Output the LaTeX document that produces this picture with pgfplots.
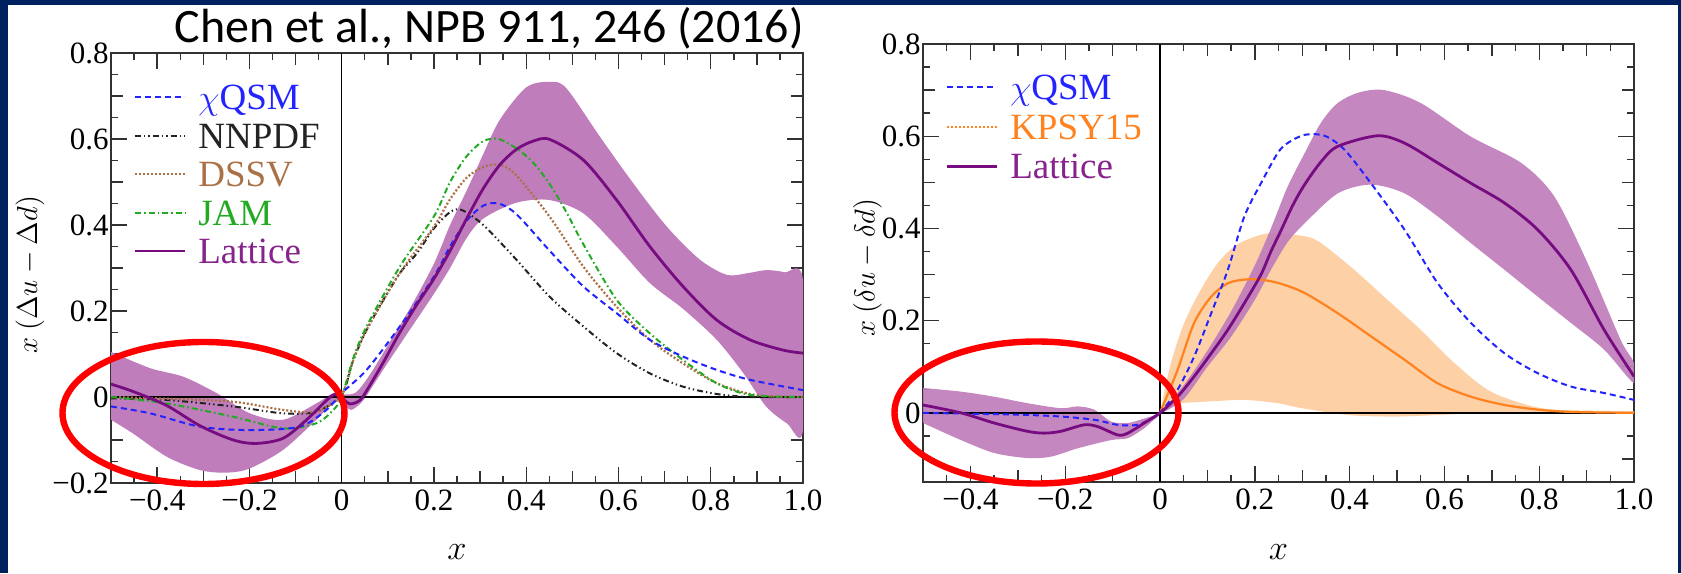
\documentclass[border=0pt]{standalone}
\usepackage{pgfplots}
\pgfplotsset{compat=1.18}
\usepackage{fontspec}
\setmainfont{Liberation Serif}
\newfontfamily\titlefont{Carlito}

\definecolor{navy}{RGB}{0,32,96}
\definecolor{bandp}{RGB}{191,125,187}
\definecolor{latt}{RGB}{118,12,128}
\definecolor{lattxt}{RGB}{135,35,140}
\definecolor{qsm}{RGB}{35,35,255}
\definecolor{nnpdf}{RGB}{35,35,35}
\definecolor{dssv}{RGB}{170,112,70}
\definecolor{jam}{RGB}{35,170,35}
\definecolor{kpsy}{RGB}{255,130,30}
\definecolor{bando}{RGB}{254,208,166}
\definecolor{axframe}{RGB}{50,50,50}

\pgfplotsset{
  pdfpanel/.style={
    scale only axis, anchor=south west,
    xmin=-0.5, xmax=1.0,
    axis line style={axframe, line width=1pt},
    tick style={axframe, line width=0.7pt},
    major tick length=8pt, minor tick length=3.3pt,
    xtick={-0.4,-0.2,0,0.2,0.4,0.6,0.8,1.0},
    xticklabels={−0.4,−0.2,0,0.2,0.4,0.6,0.8,1.0},
    minor xtick={-0.45,-0.35,-0.25,-0.15,-0.05,0.05,0.15,0.25,0.35,0.45,0.55,0.65,0.75,0.85,0.95},
    extra x ticks={-0.3,-0.1,0.1,0.3,0.5,0.7,0.9},
    extra x tick labels={},
    extra x tick style={major tick length=5.8pt},
    extra y tick labels={},
    extra y tick style={major tick length=5.8pt},
    ticklabel style={font=\fontsize{15.5}{17}\selectfont},
    yticklabel style={inner xsep=1pt},
    xlabel={$x$},
    xlabel style={at={(axis description cs:0.5,-0.16)}, anchor=center,
      font=\fontsize{19}{21}\selectfont},
    ylabel style={anchor=center, font=\fontsize{14}{16}\selectfont},
    legend cell align=left,
    legend style={draw=none, fill=none, inner sep=0pt, column sep=6pt,
      font=\fontsize{18.5}{20}\selectfont,
      nodes={text height=13pt, text depth=4.5pt, inner sep=0pt}},
    legend image code/.code={\path[draw=none] (0pt,-2pt) -- (0pt,2pt);
      \draw[##1] (0pt,2pt) -- (25pt,2pt);},
  },
  qsmline/.style={qsm, line width=1pt, dash pattern=on 3pt off 2pt},
  nnline/.style={nnpdf, line width=1pt, dash pattern=on 3pt off 1.5pt on 0.7pt off 1.5pt on 0.7pt off 1.5pt},
  dssvline/.style={dssv, line width=1.1pt, dash pattern=on 1pt off 1pt},
  jamline/.style={jam, line width=1pt, dash pattern=on 3pt off 1.5pt on 0.8pt off 1.5pt},
  lattline/.style={latt, line width=1.4pt},
}

\begin{document}
\begin{tikzpicture}
\fill[navy] (0pt,0pt) rectangle (840.5pt,286.5pt);
\fill[white] (3.75pt,0pt) rectangle (839pt,284pt);

% left panel: helicity
\begin{axis}[pdfpanel,
  at={(55.5pt,45pt)}, width=346pt, height=215pt,
  ymin=-0.2, ymax=0.8,
  ytick={-0.2,0,0.2,0.4,0.6,0.8},
  yticklabels={−0.2,0,0.2,0.4,0.6,0.8},
  minor ytick={-0.15,-0.05,0.05,0.15,0.25,0.35,0.45,0.55,0.65,0.75},
  extra y ticks={-0.1,0.1,0.3,0.5,0.7},
  ylabel={$x\ (\Delta u-\Delta d)$},
  ylabel style={at={(axis description cs:-0.117,0.484)}},
  legend style={at={(axis description cs:0.032,0.93)}, anchor=north west, row sep=1.75pt},
]
\addlegendimage{qsmline}\addlegendentry{\textcolor{qsm}{$\chi$QSM}}
\addlegendimage{nnline}\addlegendentry{\textcolor{nnpdf}{NNPDF}}
\addlegendimage{dssvline}\addlegendentry{\textcolor{dssv}{DSSV}}
\addlegendimage{jamline}\addlegendentry{\textcolor{jam}{JAM}}
\addlegendimage{lattline}\addlegendentry{\textcolor{lattxt}{Lattice}}

% lattice band: upper edge, then lower edge back
\addplot[fill=bandp, draw=none, smooth, forget plot] coordinates {
(-0.5,0.105)(-0.415,0.067)(-0.343,0.047)(-0.271,0.009)(-0.199,-0.038)(-0.127,-0.053)
(-0.055,-0.015)(-0.02,0.008)(0,0.006)(0.03,0.01)(0.06,0.05)(0.1,0.12)(0.15,0.21)
(0.2,0.31)(0.235,0.40)(0.271,0.48)(0.307,0.565)(0.343,0.645)(0.4,0.72)(0.451,0.733)
(0.487,0.718)(0.56,0.605)(0.632,0.497)(0.705,0.396)(0.777,0.319)(0.835,0.284)
(0.88,0.288)(0.92,0.295)(0.96,0.29)(1.0,0.272)
(1.0,-0.077)(0.965,-0.061)(0.92,-0.022)(0.871,0.055)(0.813,0.133)(0.74,0.205)
(0.668,0.265)(0.596,0.35)(0.524,0.427)(0.451,0.458)(0.379,0.452)(0.307,0.415)
(0.271,0.37)(0.235,0.30)(0.2,0.24)(0.15,0.16)(0.1,0.08)(0.07,0.03)(0.045,-0.01)
(0.02,-0.03)(0,-0.012)(-0.02,-0.015)(-0.055,-0.053)(-0.127,-0.123)(-0.199,-0.166)
(-0.249,-0.176)(-0.307,-0.17)(-0.379,-0.139)(-0.452,-0.085)(-0.5,-0.053)} -- cycle;

\draw[black, line width=0.9pt] (axis cs:-0.5,0) -- (axis cs:1,0);
\draw[black, line width=0.6pt] (axis cs:0,-0.2) -- (axis cs:0,0.8);

\addplot[nnline, smooth, forget plot] coordinates {
(-0.5,-0.003)(-0.379,-0.007)(-0.235,-0.022)(-0.127,-0.038)(-0.055,-0.034)(0,0.005)
(0.025,0.085)(0.054,0.156)(0.09,0.225)(0.126,0.288)(0.163,0.334)(0.2,0.392)(0.235,0.43)
(0.26,0.435)(0.307,0.40)(0.379,0.319)(0.451,0.233)(0.524,0.164)(0.596,0.102)
(0.668,0.055)(0.74,0.024)(0.813,0.007)(0.885,0.0)(1.0,0.0)};
\addplot[dssvline, smooth, forget plot] coordinates {
(-0.5,0.0)(-0.379,-0.004)(-0.235,-0.011)(-0.127,-0.03)(-0.055,-0.034)(0,0.005)
(0.025,0.085)(0.054,0.156)(0.126,0.288)(0.2,0.396)(0.235,0.46)(0.271,0.51)(0.307,0.535)
(0.343,0.54)(0.379,0.515)(0.451,0.419)(0.524,0.303)(0.596,0.21)(0.668,0.133)
(0.74,0.078)(0.813,0.032)(0.885,0.007)(0.95,0.0)(1.0,0.0)};
\addplot[jamline, smooth, forget plot] coordinates {
(-0.5,0.0)(-0.379,-0.015)(-0.235,-0.046)(-0.127,-0.073)(-0.055,-0.061)(-0.018,-0.03)
(0,0.0)(0.025,0.09)(0.054,0.164)(0.126,0.303)(0.2,0.42)(0.235,0.50)(0.271,0.56)
(0.307,0.595)(0.34,0.60)(0.379,0.578)(0.415,0.545)(0.451,0.495)(0.487,0.43)
(0.524,0.355)(0.596,0.226)(0.668,0.148)(0.74,0.086)(0.813,0.032)(0.885,0.005)(1.0,0.0)};
\addplot[qsmline, smooth, forget plot] coordinates {
(-0.5,-0.022)(-0.415,-0.038)(-0.307,-0.069)(-0.199,-0.077)(-0.091,-0.069)(-0.033,-0.03)
(0,0.009)(0.054,0.063)(0.126,0.164)(0.2,0.28)(0.235,0.35)(0.271,0.41)(0.307,0.445)
(0.34,0.45)(0.379,0.425)(0.451,0.34)(0.524,0.257)(0.596,0.195)(0.668,0.133)
(0.74,0.094)(0.813,0.063)(0.885,0.04)(1.0,0.016)};
\addplot[lattline, smooth, forget plot] coordinates {
(-0.5,0.03)(-0.45,0.012)(-0.379,-0.02)(-0.307,-0.067)(-0.235,-0.1)(-0.185,-0.108)
(-0.127,-0.096)(-0.076,-0.053)(-0.033,-0.008)(-0.015,0.006)(0,-0.002)(0.018,-0.016)
(0.04,-0.007)(0.06,0.025)(0.09,0.08)(0.126,0.15)(0.163,0.215)(0.2,0.275)(0.235,0.34)
(0.271,0.415)(0.307,0.485)(0.343,0.54)(0.379,0.576)(0.415,0.595)(0.451,0.599)
(0.524,0.551)(0.596,0.458)(0.668,0.35)(0.74,0.257)(0.813,0.179)(0.885,0.133)
(0.957,0.109)(1.0,0.102)};
\end{axis}

% right panel: transversity
\begin{axis}[pdfpanel,
  at={(461.5pt,45.5pt)}, width=355.5pt, height=219pt,
  ymin=-0.15, ymax=0.8,
  ytick={0,0.2,0.4,0.6,0.8},
  yticklabels={0,0.2,0.4,0.6,0.8},
  minor ytick={-0.05,0.05,0.15,0.25,0.35,0.45,0.55,0.65,0.75},
  extra y ticks={-0.1,0.1,0.3,0.5,0.7},
  ylabel={$x\ (\delta u-\delta d)$},
  ylabel style={at={(axis description cs:-0.078,0.49)}},
  legend style={at={(axis description cs:0.031,0.934)}, anchor=north west, row sep=2.4pt},
]
\addlegendimage{qsmline}\addlegendentry{\textcolor{qsm}{$\chi$QSM}}
\addlegendimage{kpsy, line width=1pt, dash pattern=on 1pt off 1pt}\addlegendentry{\textcolor{kpsy}{KPSY15}}
\addlegendimage{lattline}\addlegendentry{\textcolor{lattxt}{Lattice}}

% KPSY15 band
\addplot[fill=bando, draw=none, smooth, forget plot] coordinates {
(0,0)(0.023,0.108)(0.051,0.195)(0.086,0.267)(0.122,0.325)(0.157,0.361)(0.192,0.379)
(0.234,0.39)(0.305,0.383)(0.34,0.368)(0.41,0.31)(0.48,0.245)(0.55,0.18)(0.621,0.108)
(0.691,0.05)(0.762,0.021)(0.832,0.007)(1.0,0.003)
(1.0,0.0)(0.7,0.0)(0.6,-0.004)(0.5,-0.008)(0.4,-0.005)(0.3,0.01)(0.248,0.021)
(0.178,0.028)(0.108,0.025)(0.037,0.021)} -- cycle;

% lattice band
\addplot[fill=bandp, fill opacity=0.92, draw=none, smooth, forget plot] coordinates {
(-0.5,0.054)(-0.42,0.046)(-0.35,0.035)(-0.28,0.021)(-0.209,0.01)(-0.174,0.014)
(-0.139,0.007)(-0.103,-0.019)(-0.068,-0.022)(-0.033,-0.012)(0,0.002)(0.05,0.06)
(0.1,0.135)(0.15,0.22)(0.2,0.32)(0.234,0.40)(0.269,0.49)(0.305,0.563)(0.34,0.63)
(0.375,0.672)(0.42,0.695)(0.473,0.70)(0.55,0.672)(0.656,0.599)(0.762,0.542)
(0.832,0.469)(0.902,0.325)(0.972,0.158)(1.0,0.108)
(1.0,0.064)(0.937,0.137)(0.867,0.195)(0.797,0.252)(0.727,0.31)(0.656,0.368)
(0.586,0.426)(0.516,0.476)(0.445,0.495)(0.375,0.476)(0.305,0.411)(0.269,0.37)
(0.234,0.31)(0.2,0.245)(0.15,0.165)(0.1,0.1)(0.05,0.03)(0,-0.004)(-0.033,-0.033)
(-0.068,-0.055)(-0.103,-0.059)(-0.174,-0.077)(-0.23,-0.095)(-0.28,-0.098)
(-0.35,-0.087)(-0.42,-0.059)(-0.5,-0.022)} -- cycle;

\draw[black, line width=0.9pt] (axis cs:-0.5,0) -- (axis cs:1,0);
\draw[black, line width=0.6pt] (axis cs:0,-0.15) -- (axis cs:0,0.8);

\addplot[kpsy, line width=1.1pt, smooth, forget plot] coordinates {
(0,0)(0.037,0.093)(0.072,0.195)(0.108,0.252)(0.143,0.281)(0.178,0.289)(0.213,0.289)
(0.255,0.28)(0.305,0.26)(0.375,0.216)(0.445,0.166)(0.516,0.115)(0.586,0.064)
(0.656,0.035)(0.727,0.017)(0.797,0.007)(0.867,0.002)(1.0,0.0)};
\addplot[qsmline, smooth, forget plot] coordinates {
(-0.5,0.0)(-0.3,-0.004)(-0.209,-0.008)(-0.139,-0.015)(-0.089,-0.026)(-0.047,-0.026)
(-0.018,-0.012)(0,0)(0.037,0.05)(0.072,0.122)(0.108,0.216)(0.143,0.31)(0.178,0.426)
(0.213,0.498)(0.248,0.563)(0.269,0.585)(0.305,0.603)(0.347,0.601)(0.389,0.571)
(0.445,0.498)(0.516,0.397)(0.586,0.281)(0.656,0.195)(0.727,0.129)(0.797,0.086)
(0.867,0.057)(0.937,0.043)(1.0,0.028)};
\addplot[lattline, smooth, forget plot] coordinates {
(-0.5,0.017)(-0.42,0.0)(-0.35,-0.022)(-0.28,-0.04)(-0.244,-0.044)(-0.209,-0.04)
(-0.16,-0.026)(-0.131,-0.03)(-0.089,-0.048)(-0.068,-0.044)(-0.033,-0.022)(0,0)
(0.037,0.035)(0.072,0.079)(0.108,0.129)(0.143,0.18)(0.178,0.238)(0.213,0.3)
(0.234,0.35)(0.255,0.395)(0.28,0.45)(0.305,0.495)(0.34,0.545)(0.375,0.578)
(0.459,0.601)(0.516,0.585)(0.586,0.542)(0.656,0.498)(0.727,0.455)(0.797,0.397)
(0.867,0.31)(0.937,0.18)(1.0,0.079)};
\end{axis}

\node[anchor=base east, inner sep=0pt, font=\titlefont\fontsize{24}{26}\selectfont]
  at (402pt,265pt) {Chen et al., NPB 911, 246 (2016)};

\draw[red, line width=3.2pt] (101.75pt,80pt) ellipse [x radius=70.5pt, y radius=35.5pt];
\draw[red, line width=3.2pt] (518.25pt,80.25pt) ellipse [x radius=71pt, y radius=35.5pt];

\pgfresetboundingbox
\useasboundingbox (0pt,0pt) rectangle (840.5pt,286.5pt);
\end{tikzpicture}
\end{document}
